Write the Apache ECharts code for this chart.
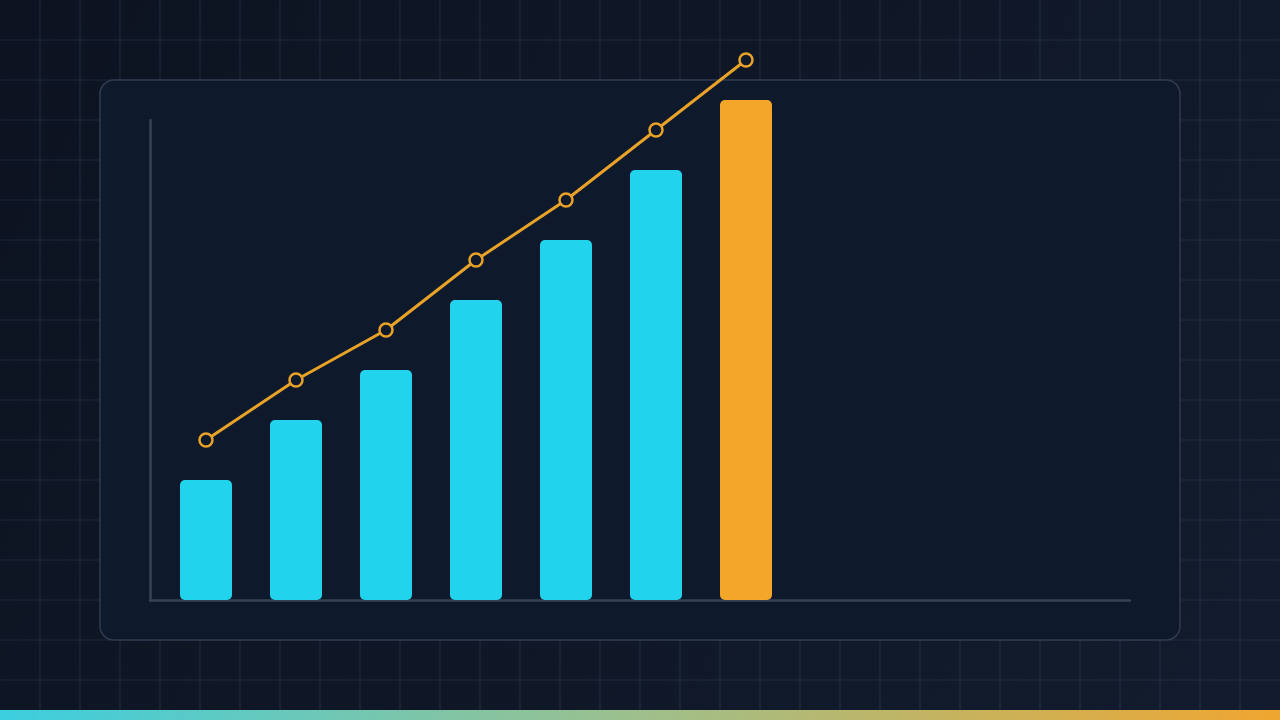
<!DOCTYPE html>
<html>
<head>
<meta charset="utf-8">
<script src="https://cdn.jsdelivr.net/npm/echarts@6/dist/echarts.min.js"></script>
<style>
html,body{margin:0;padding:0;width:1280px;height:720px;overflow:hidden;background:#0f1626;}
#chart{width:1280px;height:720px;}
</style>
</head>
<body>
<div id="chart"></div>
<script>
// Data
const categories = [0, 1, 2, 3, 4, 5, 6];
const barValues = [12, 18, 23, 30, 36, 43, 50];
const lineValues = [16, 22, 27, 34, 40, 47, 54];
const highlightIndex = 6;

const chart = echarts.init(document.getElementById('chart'));

// background grid decoration
const bgGraphics = [];
bgGraphics.push({
  type: 'rect', z: -100, silent: true,
  shape: { x: 0, y: 0, width: 1280, height: 720 },
  style: { fill: new echarts.graphic.LinearGradient(0, 0, 1, 1, [
    { offset: 0, color: '#0d1320' }, { offset: 1, color: '#121c2e' }]) }
});
for (let x = 40; x < 1280; x += 40) {
  bgGraphics.push({ type: 'line', z: -99, silent: true,
    shape: { x1: x, y1: 0, x2: x, y2: 720 },
    style: { stroke: 'rgba(70,85,110,0.32)', lineWidth: 1.2 } });
}
for (let y = 40; y < 720; y += 40) {
  bgGraphics.push({ type: 'line', z: -99, silent: true,
    shape: { x1: 0, y1: y, x2: 1280, y2: y },
    style: { stroke: 'rgba(70,85,110,0.32)', lineWidth: 1.2 } });
}
bgGraphics.push({
  type: 'rect', z: -50, silent: true,
  shape: { x: 100, y: 80, width: 1080, height: 560, r: 14 },
  style: { fill: '#0f192c', stroke: '#2f3b50', lineWidth: 1.5 }
});
bgGraphics.push({
  type: 'rect', z: 50, silent: true,
  shape: { x: 0, y: 710, width: 1280, height: 10 },
  style: { fill: new echarts.graphic.LinearGradient(0, 0, 1, 0, [
    { offset: 0, color: '#3ccfe0' }, { offset: 0.5, color: '#9ec08c' }, { offset: 1, color: '#f0a630' }]) }
});

const orange = '#f4a62a';
const cyan = '#22d3ee';

chart.setOption({
  animation: false,
  backgroundColor: 'transparent',
  graphic: bgGraphics,
  grid: { left: 150, top: 120, width: 980, height: 480 },
  xAxis: {
    type: 'value', min: -0.6222, max: 10.2667,
    axisLine: { show: true, onZero: false, lineStyle: { color: '#364256', width: 2.5 } },
    axisTick: { show: false }, axisLabel: { show: false }, splitLine: { show: false }
  },
  yAxis: {
    type: 'value', min: 0, max: 48,
    axisLine: { show: true, onZero: false, lineStyle: { color: '#364256', width: 2.5 } },
    axisTick: { show: false }, axisLabel: { show: false }, splitLine: { show: false }
  },
  series: [
    {
      type: 'bar', clip: false, barWidth: 52,
      data: categories.map((c, i) => ({
        value: [c, barValues[i]],
        itemStyle: { color: i === highlightIndex ? orange : cyan, borderRadius: 5 }
      })),
      z: 2
    },
    {
      type: 'line', clip: false,
      data: categories.map((c, i) => [c, lineValues[i]]),
      symbol: 'circle', symbolSize: 13,
      lineStyle: { color: '#e9a228', width: 3 },
      itemStyle: { color: '#0f192c', borderColor: '#e9a228', borderWidth: 2.5 },
      z: 3
    }
  ]
});
</script>
</body>
</html>
